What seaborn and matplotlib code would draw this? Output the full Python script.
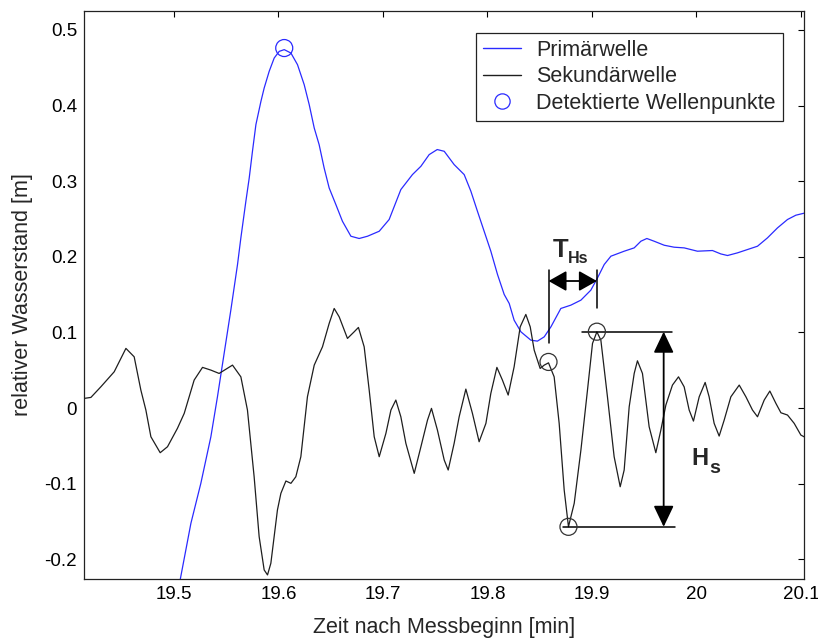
import matplotlib
matplotlib.use("Agg")
import matplotlib.pyplot as plt
import matplotlib.lines as mlines
import pandas as pd
import seaborn as sns

# Primaerwelle (blue)
prim_t = [19.5060, 19.5163, 19.5258, 19.5354, 19.5417, 19.5481, 19.5545, 19.5609, 19.5641,
          19.5689, 19.5721, 19.5752, 19.5785, 19.5833, 19.5864, 19.5912, 19.5960, 19.6008,
          19.6056, 19.6120, 19.6183, 19.6247, 19.6295, 19.6343, 19.6390, 19.6438, 19.6486,
          19.6550, 19.6613, 19.6694, 19.6773, 19.6853, 19.6965, 19.7060, 19.7172, 19.7283,
          19.7364, 19.7443, 19.7520, 19.7587, 19.7682, 19.7778, 19.7842, 19.7905, 19.7969,
          19.8033, 19.8097, 19.8161, 19.8209, 19.8256, 19.8321, 19.8416, 19.8479, 19.8544,
          19.8608, 19.8703, 19.8799, 19.8895, 19.8990, 19.9054, 19.9118, 19.9182, 19.9309,
          19.9405, 19.9469, 19.9526, 19.9596, 19.9692, 19.9787, 19.9883, 20.0010, 20.0154,
          20.0234, 20.0298, 20.0393, 20.0489, 20.0585, 20.0680, 20.0776, 20.0872, 20.0952,
          20.1041]
prim_h = [-0.2272, -0.1523, -0.0995, -0.0379, 0.0149, 0.0723, 0.1295, 0.1898, 0.2250,
          0.2735, 0.3042, 0.3395, 0.3748, 0.4055, 0.4231, 0.4452, 0.4628, 0.4716,
          0.4739, 0.4694, 0.4540, 0.4276, 0.4012, 0.3703, 0.3483, 0.3174, 0.2910,
          0.2691, 0.2470, 0.2272, 0.2242, 0.2272, 0.2338, 0.2493, 0.2889, 0.3087,
          0.3197, 0.3351, 0.3418, 0.3395, 0.3219, 0.3087, 0.2867, 0.2602, 0.2338,
          0.2074, 0.1766, 0.1502, 0.1383, 0.1162, 0.1008, 0.0898, 0.0885, 0.0942,
          0.1074, 0.1317, 0.1361, 0.1427, 0.1559, 0.1721, 0.1898, 0.2008, 0.2074,
          0.2118, 0.2206, 0.2242, 0.2206, 0.2153, 0.2127, 0.2118, 0.2074, 0.2083,
          0.2038, 0.2017, 0.2052, 0.2096, 0.2140, 0.2250, 0.2382, 0.2493, 0.2550,
          0.2580]

# Sekundaerwelle (black)
sek_t = [19.4142, 19.4206, 19.4301, 19.4429, 19.4541, 19.4620, 19.4684, 19.4732, 19.4780,
         19.4869, 19.4939, 19.5034, 19.5099, 19.5194, 19.5274, 19.5354, 19.5433, 19.5561,
         19.5641, 19.5704, 19.5768, 19.5816, 19.5864, 19.5896, 19.5928, 19.5991, 19.6024,
         19.6072, 19.6120, 19.6167, 19.6215, 19.6278, 19.6343, 19.6422, 19.6486, 19.6534,
         19.6582, 19.6661, 19.6725, 19.6766, 19.6821, 19.6869, 19.6917, 19.6965, 19.7029,
         19.7077, 19.7124, 19.7172, 19.7220, 19.7300, 19.7364, 19.7427, 19.7465, 19.7522,
         19.7587, 19.7625, 19.7682, 19.7730, 19.7794, 19.7857, 19.7921, 19.7986, 19.8033,
         19.8091, 19.8144, 19.8199, 19.8256, 19.8314, 19.8368, 19.8410, 19.8448, 19.8505,
         19.8544, 19.8585, 19.8639, 19.8687, 19.8735, 19.8776, 19.8831, 19.8895, 19.8958,
         19.9006, 19.9048, 19.9086, 19.9149, 19.9213, 19.9271, 19.9309, 19.9357, 19.9405,
         19.9436, 19.9484, 19.9548, 19.9612, 19.9660, 19.9708, 19.9771, 19.9829, 19.9883,
         19.9931, 19.9972, 20.0027, 20.0084, 20.0122, 20.0170, 20.0218, 20.0266, 20.0330,
         20.0410, 20.0474, 20.0537, 20.0585, 20.0649, 20.0703, 20.0761, 20.0809, 20.0872,
         20.0936, 20.1000, 20.1041]
sek_h = [0.0128, 0.0141, 0.0281, 0.0480, 0.0789, 0.0678, 0.0238, -0.0026, -0.0379,
         -0.0590, -0.0511, -0.0268, -0.0070, 0.0370, 0.0538, 0.0502, 0.0458, 0.0568,
         0.0413, -0.0026, -0.0908, -0.1700, -0.2140, -0.2206, -0.2052, -0.1347, -0.1127,
         -0.0964, -0.0995, -0.0908, -0.0643, 0.0149, 0.0568, 0.0810, 0.1119, 0.1317,
         0.1206, 0.0921, 0.1008, 0.1066, 0.0810, 0.0238, -0.0379, -0.0643, -0.0334,
         -0.0026, 0.0106, -0.0115, -0.0466, -0.0863, -0.0511, -0.0159, -0.0004, -0.0291,
         -0.0687, -0.0819, -0.0466, -0.0115, 0.0251, -0.0070, -0.0445, -0.0202, 0.0194,
         0.0538, 0.0370, 0.0172, 0.0546, 0.1074, 0.1238, 0.1074, 0.0766, 0.0524,
         0.0568, 0.0598, 0.0413, -0.0202, -0.1083, -0.1568, -0.1259, -0.0555, 0.0238,
         0.0855, 0.1008, 0.0898, 0.0149, -0.0643, -0.1040, -0.0819, 0.0017, 0.0458,
         0.0625, 0.0458, -0.0247, -0.0590, -0.0291, 0.0040, 0.0304, 0.0413, 0.0281,
         -0.0026, -0.0172, 0.0149, 0.0339, 0.0149, -0.0202, -0.0370, -0.0159, 0.0149,
         0.0304, 0.0149, -0.0026, -0.0115, 0.0106, 0.0225, 0.0062, -0.0062, -0.0092,
         -0.0202, -0.0357, -0.0387]

# detected wave points
prim_det_t = [19.6056]
prim_det_h = [0.476]
sek_det_t = [19.8585, 19.8776, 19.9048]
sek_det_h = [0.061, -0.157, 0.101]

x_ticks = [19.5, 19.6, 19.7, 19.8, 19.9, 20.0, 20.1]
x_labels = ["19.5", "19.6", "19.7", "19.8", "19.9", "20", "20.1"]
y_ticks = [-0.2, -0.1, 0.0, 0.1, 0.2, 0.3, 0.4, 0.5]
y_labels = ["-0.2", "-0.1", "0", "0.1", "0.2", "0.3", "0.4", "0.5"]

sns.set_style("white")
plt.rcParams["font.family"] = ["Liberation Sans", "DejaVu Sans"]

fig = plt.figure(figsize=(8.18, 6.42), dpi=100)
ax = fig.add_axes([0.1027, 0.0981, 0.8802, 0.8848])

prim = pd.DataFrame({"t": prim_t, "h": prim_h})
sek = pd.DataFrame({"t": sek_t, "h": sek_h})

sns.lineplot(data=prim, x="t", y="h", ax=ax, color="#2a2aff", lw=0.9, sort=False, estimator=None)
sns.lineplot(data=sek, x="t", y="h", ax=ax, color="#1e1e1e", lw=0.9, sort=False, estimator=None)
sns.scatterplot(x=prim_det_t, y=prim_det_h, ax=ax, marker="o", s=150,
                facecolor="none", edgecolor="#2a2aff", linewidth=0.9, zorder=5)
sns.scatterplot(x=sek_det_t, y=sek_det_h, ax=ax, marker="o", s=150,
                facecolor="none", edgecolor="#333333", linewidth=0.9, zorder=5)

# T_Hs annotation
t1, t2 = sek_det_t[0], sek_det_t[2]
ax.plot([t1, t1], [0.182, 0.0855], color="black", lw=1.1)
ax.plot([t2, t2], [0.182, 0.132], color="black", lw=1.1)
ax.annotate("", xy=(t1, 0.168), xytext=(t2, 0.168),
            arrowprops=dict(arrowstyle="<|-|>,head_length=1.1,head_width=0.62",
                            color="black", lw=1.3, shrinkA=0, shrinkB=0, mutation_scale=10))
ax.text(19.8630, 0.1995, "T", fontsize=18.5, fontweight="bold", va="baseline", ha="left")
ax.text(19.8773, 0.1915, "Hs", fontsize=11.5, fontweight="bold", va="baseline", ha="left")

# H_s annotation
h_top, h_bot = sek_det_h[2], sek_det_h[1]
ax.plot([19.891, 19.9766], [h_top, h_top], color="black", lw=1.1)
ax.plot([19.8728, 19.980], [h_bot, h_bot], color="black", lw=1.1)
ax.annotate("", xy=(19.9687, h_top), xytext=(19.9687, h_bot),
            arrowprops=dict(arrowstyle="<|-|>,head_length=1.3,head_width=0.62",
                            color="black", lw=1.3, shrinkA=0, shrinkB=0, mutation_scale=10))
ax.text(19.9950, -0.0753, "H", fontsize=17, fontweight="bold", va="baseline", ha="left")
ax.text(20.0123, -0.0855, "s", fontsize=14, fontweight="bold", va="baseline", ha="left")

ax.set_xlim(19.414, 20.103)
ax.set_ylim(-0.226, 0.525)
ax.set_xticks(x_ticks)
ax.set_xticklabels(x_labels)
ax.set_yticks(y_ticks)
ax.set_yticklabels(y_labels)
ax.tick_params(direction="in", length=4, width=0.8, top=True, right=True,
               labelsize=13.5, colors="black", pad=5)
for s in ax.spines.values():
    s.set_visible(True)
    s.set_color("#222222")
    s.set_linewidth(0.9)

ax.set_xlabel("Zeit nach Messbeginn [min]", fontsize=15.5, labelpad=10)
ax.set_ylabel("relativer Wasserstand [m]", fontsize=15.5, labelpad=8)

handles = [
    mlines.Line2D([], [], color="#2a2aff", lw=1.0),
    mlines.Line2D([], [], color="#1e1e1e", lw=1.0),
    mlines.Line2D([], [], color="#2a2aff", lw=0, marker="o", markersize=11,
                  markerfacecolor="none", markeredgewidth=0.9),
]
ax.legend(handles, ["Primärwelle", "Sekundärwelle", "Detektierte Wellenpunkte"],
          loc="upper right", bbox_to_anchor=(0.9705, 0.9618), borderaxespad=0,
          fontsize=15.5, fancybox=False, framealpha=1, edgecolor="#222222",
          handlelength=1.8, handletextpad=0.7, labelspacing=0.26, borderpad=0.32)
ax.get_legend().get_frame().set_linewidth(0.9)

fig.savefig("out.png", dpi=100)
